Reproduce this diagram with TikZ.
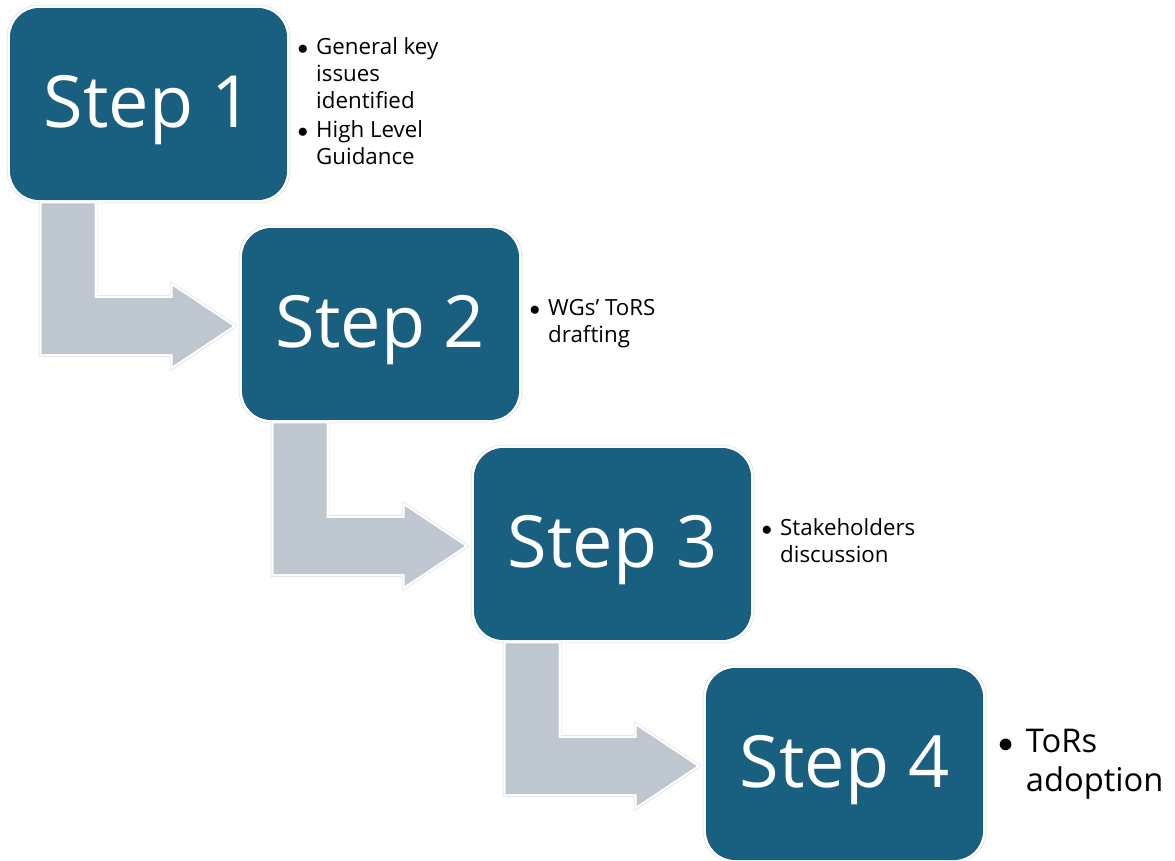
\documentclass[tikz,border=0pt]{standalone}
\usepackage{fontspec}
\setmainfont{Open Sans}
\usetikzlibrary{calc}
\usetikzlibrary{positioning}
\definecolor{stepblue}{RGB}{24,95,128}
\definecolor{arrowgray}{RGB}{190,198,207}
\tikzstyle{stepbox} = [rectangle, rounded corners=0.58cm, minimum width=5.54cm, minimum height=3.84cm, inner sep=0pt,
  preaction={draw=black!15, line width=3.6pt}, preaction={draw=white, line width=3pt},
  fill=stepblue, text=white, text height=27pt, text depth=0pt, font=\fontsize{41}{41}\selectfont]
\tikzstyle{notenode} = [inner sep=0pt, align=left, font=\fontsize{12.7}{15.3}\selectfont]
\tikzstyle{bendarrow} = [preaction={draw=black!15, line width=3.2pt}, preaction={draw=white, line width=2.6pt},
  fill=arrowgray, line join=miter]

\begin{document}
\begin{tikzpicture}[x=0.02cm, y=-0.02cm]
\useasboundingbox (0,0) rectangle (1175,860);

\node[stepbox] (step_one) at (148.5,104) {Step 1};
\node[stepbox] (step_two) at ($(step_one)+(232,220)$) {Step 2};
\node[stepbox] (step_three) at ($(step_two)+(232,220)$) {Step 3};
\node[stepbox] (step_four) at ($(step_three)+(232,220)$) {Step 4};

\node[notenode, right=0.2cm of step_one] (note_one) {\begin{tabular}{@{}l@{\hspace{0.16cm}}l@{}}
  $\bullet$ & General key\\ & issues\\ & identified\\[1.5pt]
  $\bullet$ & High Level\\ & Guidance
\end{tabular}};
\node[notenode, right=0.2cm of step_two] (note_two) {\begin{tabular}{@{}l@{\hspace{0.16cm}}l@{}}
  $\bullet$ & WGs' ToRS\\ & drafting
\end{tabular}};
\node[notenode, right=0.2cm of step_three] (note_three) {\begin{tabular}{@{}l@{\hspace{0.16cm}}l@{}}
  $\bullet$ & Stakeholders\\ & discussion
\end{tabular}};
\node[notenode, right=0.3cm of step_four, font=\fontsize{18.6}{22}\selectfont] (note_four) {\begin{tabular}{@{}l@{\hspace{0.24cm}}l@{}}
  $\bullet$ & ToRs\\ & adoption
\end{tabular}};

% bent arrows between the steps
\path[bendarrow] ($(step_one.south west)+(32,3)$) -- ($(step_one.south west)+(85,3)$)
  |- ($(step_two.west)+(-69,-26)$) -- ($(step_two.west)+(-69,-38)$) -- ($(step_two.west)+(-9,2)$)
  -- ($(step_two.west)+(-69,42)$) -- ($(step_two.west)+(-69,30)$) -| ($(step_one.south west)+(32,3)$) -- cycle;
\path[bendarrow] ($(step_two.south west)+(32,3)$) -- ($(step_two.south west)+(85,3)$)
  |- ($(step_three.west)+(-69,-26)$) -- ($(step_three.west)+(-69,-38)$) -- ($(step_three.west)+(-9,2)$)
  -- ($(step_three.west)+(-69,42)$) -- ($(step_three.west)+(-69,30)$) -| ($(step_two.south west)+(32,3)$) -- cycle;
\path[bendarrow] ($(step_three.south west)+(32,3)$) -- ($(step_three.south west)+(85,3)$)
  |- ($(step_four.west)+(-69,-26)$) -- ($(step_four.west)+(-69,-38)$) -- ($(step_four.west)+(-9,2)$)
  -- ($(step_four.west)+(-69,42)$) -- ($(step_four.west)+(-69,30)$) -| ($(step_three.south west)+(32,3)$) -- cycle;
\end{tikzpicture}
\end{document}
